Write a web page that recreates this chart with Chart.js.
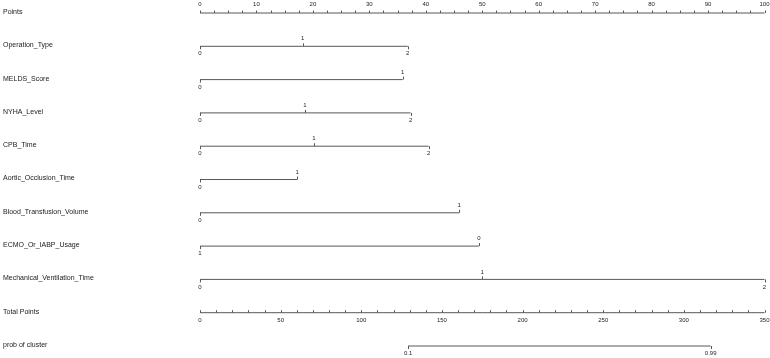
<!DOCTYPE html>
<html>
<head>
<meta charset="utf-8">
<script src="https://cdn.jsdelivr.net/npm/chart.js@4.4.1/dist/chart.umd.min.js"></script>
<style>
    html, body { margin: 0; padding: 0; background: #fff; }
</style>
</head>
<body>
<canvas id="nomogram" width="770" height="358"></canvas>
<script>
// ==================== DATA ====================
const rowNames = [
    'Points', 'Operation_Type', 'MELDS_Score', 'NYHA_Level', 'CPB_Time',
    'Aortic_Occlusion_Time', 'Blood_Transfusion_Volume', 'ECMO_Or_IABP_Usage',
    'Mechanical_Ventilation_Time', 'Total Points', 'prob of cluster'
];

// top "Points" scale
const pointsTickLabels = [0, 10, 20, 30, 40, 50, 60, 70, 80, 90, 100];
const pointsMinorStep = 2.5;

// "Total Points" scale
const totalTickLabels = [0, 50, 100, 150, 200, 250, 300, 350];
const totalMinorStep = 10;

// predictor levels and the points each one is worth
const operationTypeLevels = ['0', '1', '2'];
const operationTypePoints = [0, 18.2, 36.8];

const meldsScoreLevels = ['0', '1'];
const meldsScorePoints = [0, 35.9];

const nyhaLevelLevels = ['0', '1', '2'];
const nyhaLevelPoints = [0, 18.6, 37.3];

const cpbTimeLevels = ['0', '1', '2'];
const cpbTimePoints = [0, 20.2, 40.5];

const aorticOcclusionLevels = ['0', '1'];
const aorticOcclusionPoints = [0, 17.2];

const bloodTransfusionLevels = ['0', '1'];
const bloodTransfusionPoints = [0, 45.9];

const ecmoIabpLevels = ['1', '0'];
const ecmoIabpPoints = [0, 49.4];

const mechVentilationLevels = ['0', '1', '2'];
const mechVentilationPoints = [0, 50.0, 100];

// probability scale, placed on total points
const probLabels = ['0.1', '0.99'];
const probTotalPoints = [129, 316.6];

// ==================== DATASETS ====================
const LINE_COLOR = '#585858';

function levelRow(row, levels, pts) {
    return {
        kind: 'levels',
        alternate: true,
        tickText: levels,
        data: pts.map(p => ({ x: p, y: row })),
        xAxisID: 'x'
    };
}

const datasets = [
    {
        kind: 'axis', labelSide: -1, minorStep: pointsMinorStep,
        tickValues: pointsTickLabels,
        data: [{ x: 0, y: 0 }, { x: 100, y: 0 }],
        xAxisID: 'x'
    },
    levelRow(1, operationTypeLevels, operationTypePoints),
    levelRow(2, meldsScoreLevels, meldsScorePoints),
    levelRow(3, nyhaLevelLevels, nyhaLevelPoints),
    levelRow(4, cpbTimeLevels, cpbTimePoints),
    levelRow(5, aorticOcclusionLevels, aorticOcclusionPoints),
    levelRow(6, bloodTransfusionLevels, bloodTransfusionPoints),
    levelRow(7, ecmoIabpLevels, ecmoIabpPoints),
    levelRow(8, mechVentilationLevels, mechVentilationPoints),
    {
        kind: 'axis', labelSide: 1, minorStep: totalMinorStep,
        tickValues: totalTickLabels,
        data: [{ x: 0, y: 9 }, { x: 350, y: 9 }],
        xAxisID: 'xTotal'
    },
    {
        kind: 'levels', alternate: false,
        tickText: probLabels,
        data: probTotalPoints.map(p => ({ x: p, y: 10 })),
        xAxisID: 'xTotal'
    }
];

datasets.forEach(ds => {
    ds.borderColor = LINE_COLOR;
    ds.borderWidth = 1;
    ds.pointRadius = 0;
    ds.pointHoverRadius = 0;
    ds.fill = false;
    ds.tension = 0;
    ds.clip = false;
});

// ==================== TICKS + LABELS PLUGIN ====================
const nomogramMarks = {
    id: 'nomogramMarks',
    afterDatasetsDraw(chart) {
        const ctx = chart.ctx;
        const yScale = chart.scales.y;
        ctx.save();

        // row names on the left
        ctx.fillStyle = '#1a1a1a';
        ctx.font = '7px "Liberation Sans", Arial, sans-serif';
        ctx.textAlign = 'left';
        ctx.textBaseline = 'middle';
        rowNames.forEach((name, i) => {
            ctx.fillText(name, 3, yScale.getPixelForValue(i) - 1);
        });

        ctx.font = '6px "Liberation Sans", Arial, sans-serif';
        ctx.textAlign = 'center';
        ctx.fillStyle = '#222';
        ctx.strokeStyle = LINE_COLOR;
        ctx.lineWidth = 1;

        chart.data.datasets.forEach((ds, di) => {
            const meta = chart.getDatasetMeta(di);
            if (ds.kind === 'axis') {
                const xScale = chart.scales[ds.xAxisID];
                const y = meta.data[0].y;
                ctx.beginPath();
                for (let v = xScale.min; v <= xScale.max + 1e-6; v += ds.minorStep) {
                    const px = Math.round(xScale.getPixelForValue(v)) + 0.5;
                    ctx.moveTo(px, y);
                    ctx.lineTo(px, y - 2.5);
                }
                ctx.stroke();
                ds.tickValues.forEach(v => {
                    const px = xScale.getPixelForValue(v);
                    ctx.fillText(String(v), px, y + (ds.labelSide < 0 ? -9 : 8));
                });
            } else {
                meta.data.forEach((pt, k) => {
                    const up = ds.alternate && k % 2 === 1;
                    const px = Math.round(pt.x) + 0.5;
                    ctx.beginPath();
                    ctx.moveTo(px, pt.y);
                    ctx.lineTo(px, pt.y + (up ? -3 : 3));
                    ctx.stroke();
                    ctx.fillText(ds.tickText[k], pt.x, pt.y + (up ? -7.5 : 7.5));
                });
            }
        });
        ctx.restore();
    }
};

// ==================== CHART ====================
const ctx = document.getElementById('nomogram').getContext('2d');
const nomogramChart = new Chart(ctx, {
    type: 'line',
    data: { datasets: datasets },
    options: {
        responsive: false,
        animation: false,
        events: [],
        layout: {
            padding: { left: 200, right: 5.5, top: 13, bottom: 12 }
        },
        plugins: {
            legend: { display: false },
            tooltip: { enabled: false }
        },
        scales: {
            x: { type: 'linear', min: 0, max: 100, display: false },
            xTotal: { type: 'linear', min: 0, max: 350, display: false },
            y: { type: 'linear', min: 0, max: 10, reverse: true, display: false }
        }
    },
    plugins: [nomogramMarks]
});
</script>
</body>
</html>
